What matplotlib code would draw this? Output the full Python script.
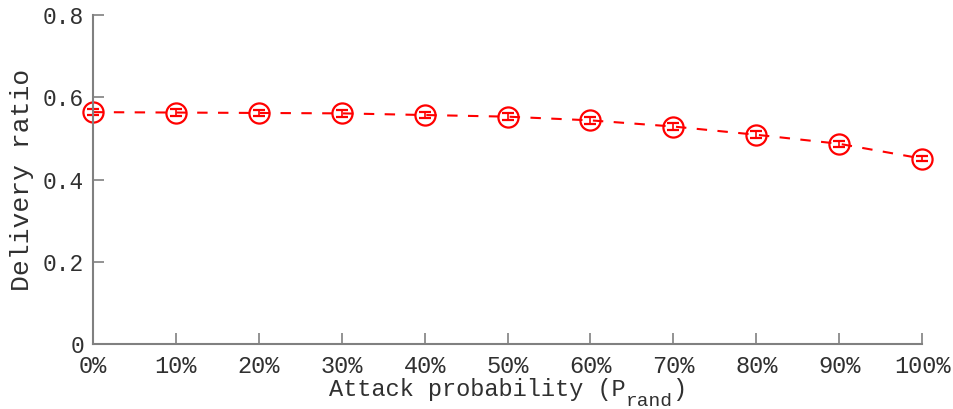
import matplotlib
matplotlib.use("Agg")
import matplotlib.pyplot as plt

attack_prob = [0, 10, 20, 30, 40, 50, 60, 70, 80, 90, 100]
delivery_ratio = [0.564, 0.563, 0.562, 0.561, 0.557, 0.553, 0.544, 0.529, 0.509, 0.487, 0.451]
delivery_err = [0.008, 0.008, 0.008, 0.008, 0.008, 0.008, 0.008, 0.008, 0.008, 0.007, 0.006]
x_ticklabels = ["0%", "10%", "20%", "30%", "40%", "50%", "60%", "70%", "80%", "90%", "100%"]
y_ticks = [0, 0.2, 0.4, 0.6, 0.8]
y_ticklabels = ["0", "0.2", "0.4", "0.6", "0.8"]
xlabel_main = "Attack probability (P"
xlabel_sub = "rand"
xlabel_end = ")"
ylabel = "Delivery ratio"

plt.rcParams['font.family'] = ['Liberation Mono', 'DejaVu Sans Mono']

W, H = 954, 409
fig = plt.figure(figsize=(W / 100, H / 100), dpi=100)
ax = fig.add_axes([0.0975, 0.159, 0.869, 0.804])

red = '#ff0000'
ax.errorbar(attack_prob, delivery_ratio, yerr=delivery_err, color=red,
            linestyle=(0, (5, 5)), linewidth=1.5, marker='o', markersize=14.5,
            markerfacecolor='none', markeredgecolor=red, markeredgewidth=1.6,
            ecolor=red, elinewidth=1.2, capsize=4, capthick=1.2, clip_on=False)

ax.set_xlim(0, 100)
ax.set_ylim(0, 0.8)
ax.set_xticks(attack_prob)
ax.set_xticklabels(x_ticklabels, fontsize=17)
ax.set_yticks(y_ticks)
ax.set_yticklabels(y_ticklabels, fontsize=16.5)

gray = '#808080'
text_col = '#303030'
for s in ['top', 'right']:
    ax.spines[s].set_visible(False)
for s in ['left', 'bottom']:
    ax.spines[s].set_color(gray)
    ax.spines[s].set_linewidth(1.5)
ax.tick_params(axis='both', direction='in', length=8, width=1.2, color=gray,
               labelcolor=text_col)
ax.tick_params(axis='x', pad=8)
ax.tick_params(axis='y', pad=6.5)

ax.set_ylabel(ylabel, fontsize=19, color=text_col, labelpad=6)

# x label composed of main text + lowered subscript + closing parenthesis
renderer = fig.canvas.get_renderer()
base_main = 1 - 396 / H
base_sub = 1 - 406 / H
t1 = fig.text(0, base_main, xlabel_main, fontsize=17, color=text_col, va='baseline', ha='left')
t2 = fig.text(0, base_sub, xlabel_sub, fontsize=14, color=text_col, va='baseline', ha='left')
t3 = fig.text(0, base_main, xlabel_end, fontsize=17, color=text_col, va='baseline', ha='left')
w1 = t1.get_window_extent(renderer).width
w2 = t2.get_window_extent(renderer).width
w3 = t3.get_window_extent(renderer).width
bbox = ax.get_window_extent(renderer)
center = (bbox.x0 + bbox.x1) / 2
start = center - (w1 + w2 + w3) / 2
t1.set_x(start / W)
t2.set_x((start + w1) / W)
t3.set_x((start + w1 + w2) / W)

fig.savefig('out.png', dpi=100)
